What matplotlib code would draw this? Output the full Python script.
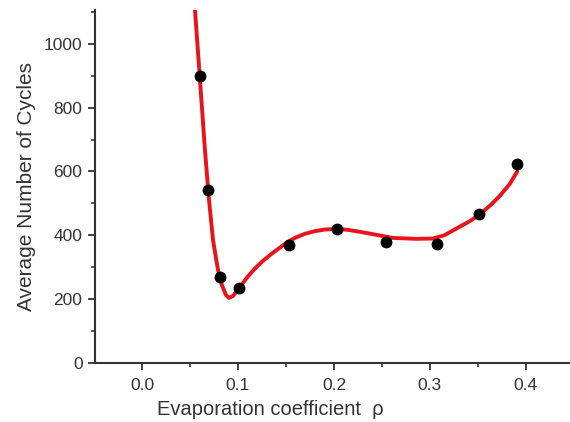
import matplotlib
matplotlib.use("Agg")
import matplotlib.pyplot as plt
from matplotlib.ticker import MultipleLocator

plt.rcParams['font.family'] = ['Liberation Sans', 'DejaVu Sans']

# measured data points
rho = [0.060, 0.069, 0.081, 0.101, 0.153, 0.203, 0.254, 0.307, 0.351, 0.391]
cycles = [900, 542, 270, 235, 370, 420, 379, 374, 467, 624]

# fitted curve
fit_x = [0.0552, 0.0604, 0.0656, 0.0698, 0.0740, 0.0792, 0.0833, 0.0875,
         0.0906, 0.0948, 0.0990, 0.1050, 0.1100, 0.1180, 0.1260, 0.1350,
         0.1430, 0.1510, 0.1600, 0.1700, 0.1800, 0.1900, 0.2030, 0.2150,
         0.2270, 0.2400, 0.2610, 0.2860, 0.3030, 0.3150, 0.3310, 0.3420,
         0.3520, 0.3630, 0.3730, 0.3830, 0.3910]
fit_y = [1106, 887, 667, 511, 385, 291, 244, 213,
         204, 210, 226, 250, 270, 297, 320, 342,
         360, 378, 393, 405, 413, 418, 420, 417,
         411, 404, 392, 389, 390, 400, 427, 445,
         466, 494, 524, 560, 600]

fig = plt.figure(figsize=(5.70, 4.22), dpi=100)
ax = fig.add_axes([95/570, (422-363)/422, (570-95)/570, (363-10)/422])

ax.plot(fit_x, fit_y, color='#e8141b', lw=2.8, solid_capstyle='round',
        solid_joinstyle='round', zorder=2)
ax.plot(rho, cycles, 'o', color='black', ms=7.5, zorder=3)

ax.set_xlim(-0.049, 0.446)
ax.set_ylim(0, 1106)

ax.set_xticks([0.0, 0.1, 0.2, 0.3, 0.4])
ax.set_xticklabels(['0.0', '0.1', '0.2', '0.3', '0.4'])
ax.xaxis.set_minor_locator(MultipleLocator(0.05))
ax.yaxis.set_major_locator(MultipleLocator(200))
ax.yaxis.set_minor_locator(MultipleLocator(100))

for s in ['top', 'right']:
    ax.spines[s].set_visible(False)
for s in ['left', 'bottom']:
    ax.spines[s].set_color('#333333')
    ax.spines[s].set_linewidth(1.5)

ax.tick_params(which='major', direction='out', length=5, width=1.3,
               colors='#333333', labelsize=12.5)
ax.tick_params(axis='x', which='major', pad=6)
ax.tick_params(axis='y', which='major', pad=4)
ax.tick_params(which='minor', direction='out', length=3, width=1.2,
               colors='#333333')

ax.set_xlabel('Evaporation coefficient  ρ', fontsize=14.5, color='#333333', labelpad=4)
ax.xaxis.set_label_coords((270-95)/475, -0.105)
ax.set_ylabel('Average Number of Cycles', fontsize=15, color='#333333', labelpad=6)

fig.savefig('out.png', dpi=100)
